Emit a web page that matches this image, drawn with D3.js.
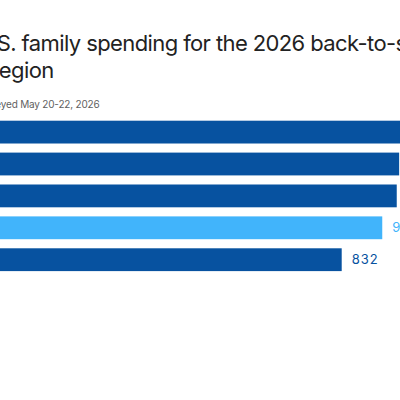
<!DOCTYPE html>
<html><head><meta charset="utf-8">
<script src="https://cdn.jsdelivr.net/npm/d3@7"></script>
<style>html,body{margin:0;padding:0;background:#fff;overflow:hidden}</style>
</head><body>
<svg id="c" width="400" height="400"></svg>
<script>
const regions = ["Northeast", "West", "South", "U.S. average", "Midwest"];
const spending = [975, 951, 946, 916, 832];
const highlight = [false, false, false, true, false];
const titleLines = ["U.S. family spending for the 2026 back-to-school season, by", "region"];
const subtitle = "Surveyed May 20-22, 2026";

const svg = d3.select("#c");
const dark = "#0752a0", light = "#41b4fb";
const x0 = -60, xMax = 341.7;
const x = d3.scaleLinear().domain([0, 832]).range([x0, xMax]);
const y = d3.scaleBand().domain(regions).range([120.7, 271.1]).paddingInner(0.285).paddingOuter(0);

svg.append("text").attr("x", -24).attr("y", 51).attr("font-family", "Inter").attr("font-size", 22)
  .attr("letter-spacing", -0.6).attr("fill", "#222").text(titleLines[0]);
svg.append("text").attr("x", -8.5).attr("y", 78).attr("font-family", "Inter").attr("font-size", 22)
  .attr("letter-spacing", -0.6).attr("fill", "#222").text(titleLines[1]);
svg.append("text").attr("x", -25.5).attr("y", 107.5).attr("font-family", "Inter").attr("font-size", 10)
  .attr("letter-spacing", -0.2).attr("fill", "#5f5f5f").text(subtitle);

svg.selectAll("rect.bar").data(regions).join("rect").attr("class", "bar")
  .attr("x", x0).attr("y", d => y(d)).attr("height", y.bandwidth())
  .attr("width", (d, i) => x(spending[i]) - x0)
  .attr("fill", (d, i) => highlight[i] ? light : dark);

svg.selectAll("text.val").data(regions).join("text").attr("class", "val")
  .attr("x", (d, i) => x(spending[i]) + 10).attr("y", d => y(d) + y.bandwidth() / 2)
  .attr("dy", "0.35em").attr("font-family", "Inter").attr("font-size", 13).attr("letter-spacing", 1)
  .attr("fill", (d, i) => highlight[i] ? light : dark)
  .text((d, i) => spending[i]);
</script>
</body></html>
